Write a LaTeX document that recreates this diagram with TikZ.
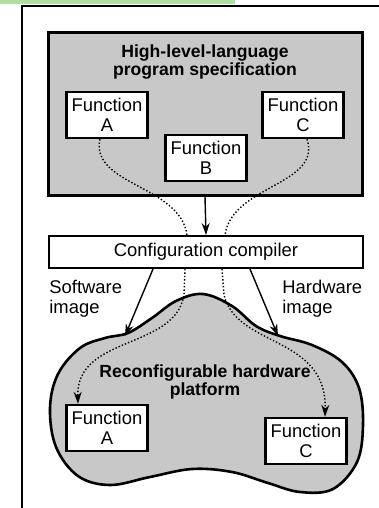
\documentclass[tikz,border=0pt]{standalone}
\usepackage{fontspec}
\setmainfont{Liberation Sans}
\usetikzlibrary{arrows.meta,fit}
\definecolor{stripgreen}{RGB}{178,222,165}
\definecolor{speckle}{RGB}{200,200,200}
\begin{document}
\begin{tikzpicture}[x=0.5pt,y=-0.5pt,font=\fontsize{9.2}{9.8}\selectfont]
\tikzstyle{panel}=[draw, line width=1.5pt, fill=speckle, inner sep=0pt]
\tikzstyle{func}=[draw, line width=1.2pt, fill=white, align=center, inner sep=0pt, minimum width=40.5pt, minimum height=23pt]
\tikzstyle{tip}=[-{Stealth[length=6pt,width=4pt]}]
\tikzstyle{flow}=[densely dotted, line width=0.7pt]

\useasboundingbox (0,0) rectangle (379,508);
\fill[stripgreen] (0,0) rectangle (235,4);
\draw[line width=0.7pt] (22,508) -- (22,6) -- (379,6);

% program specification
\node[panel, fit={(48,33) (362,195)}] (spec) {};
\node[align=center, font=\fontsize{8.8}{9.2}\selectfont\bfseries] (title) at (205,62) {High-level-language\\program specification};
\node[func] (fa) at (107,115) {Function\\A};
\node[func] (fb) at (206,158) {Function\\B};
\node[func] (fc) at (303,115) {Function\\C};

% compiler
\node[draw, line width=1pt, fill=white, minimum width=157pt, minimum height=16pt, inner sep=0pt] (comp) at (206,252) {Configuration compiler};

% hardware platform
\draw[line width=1.3pt, fill=speckle] plot[smooth cycle, tension=0.6] coordinates {
 (203,294) (232,306) (256,326) (280,336) (312,345) (342,362) (359,388) (363,425)
 (357,462) (333,489) (300,492) (268,483) (232,472) (192,469) (150,477) (110,485)
 (78,476) (56,447) (50,408) (58,374) (80,348) (105,338) (128,333) (152,318) (176,301)};
\coordinate (sw) at (125,336);
\coordinate (hw) at (278,336);
\node[align=center, font=\fontsize{8.8}{9.2}\selectfont\bfseries] (plat) at (205,382) {Reconfigurable hardware\\platform};
\node[func] (ha) at (107,428) {Function\\A};
\node[func] (hc) at (306,441) {Function\\C};

\node[align=left, anchor=north west, inner sep=0pt] (swl) at (49,280) {Software\\image};
\node[align=left, anchor=north west, inner sep=0pt] (hwl) at (282,280) {Hardware\\image};

% connectors
\draw[tip, line width=0.7pt] (spec.south) -- (comp.north);
\draw[tip, line width=0.7pt] (comp.south -| 153,0) -- (sw);
\draw[tip, line width=0.7pt] (comp.south -| 250,0) -- (hw);

\draw[flow] (fa.south -| 100,0) .. controls (90,185) and (180,185) .. (comp.north -| 187,0);
\draw[flow] (fc.south -| 307,0) .. controls (322,185) and (232,185) .. (comp.north -| 225,0);
\draw[flow, tip] (comp.south -| 185,0) -- (184,295) .. controls (175,350) and (76,335) .. (ha.north -| 78,0);
\draw[flow, tip] (comp.south -| 222,0) -- (224,295) .. controls (237,348) and (327,335) .. (hc.north -| 325,0);
\end{tikzpicture}
\end{document}
